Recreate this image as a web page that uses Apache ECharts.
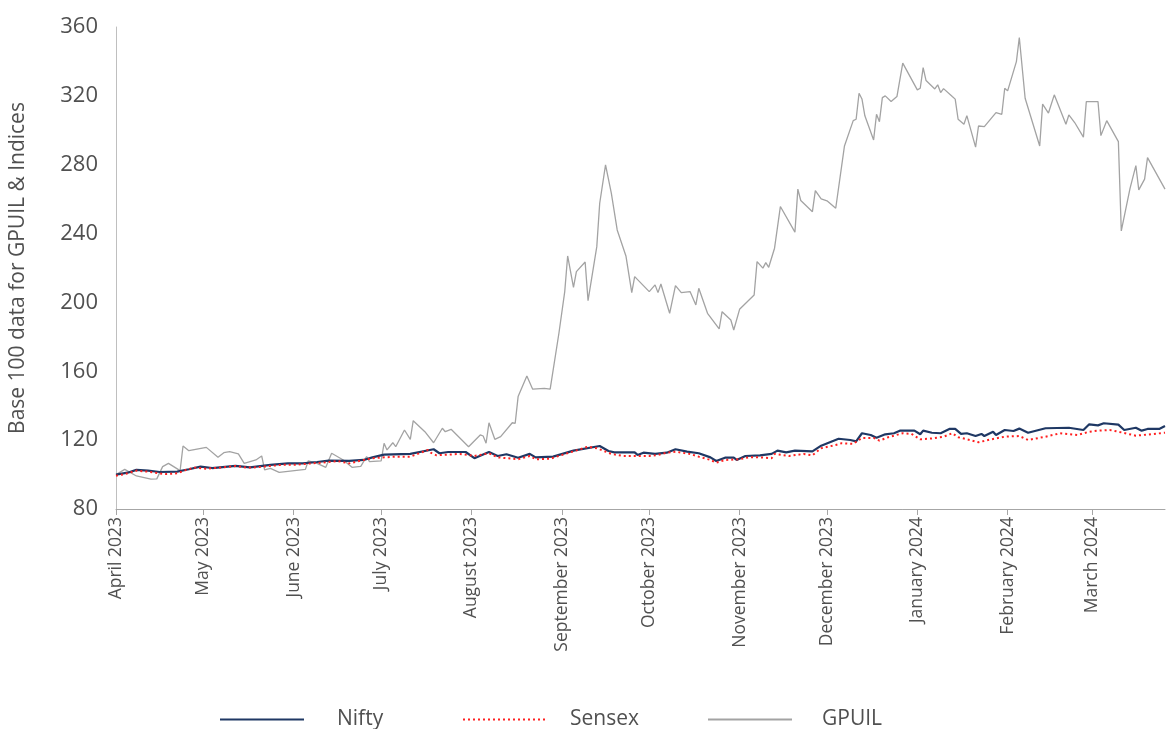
<!DOCTYPE html>
<html>
<head>
<meta charset="utf-8">
<script src="https://cdn.jsdelivr.net/npm/echarts@6/dist/echarts.min.js"></script>
<style>html,body{margin:0;padding:0;background:#fff}#c{width:1166px;height:729px}</style>
</head>
<body>
<div id="c"></div>
<script>
// Days are counted from 2023-04-01
var startYear = 2023, startMonth = 3, startDay = 1;
var lastDay = 360;
var yTicks = [80, 360, 40];
var monthNames = ['January','February','March','April','May','June','July','August','September','October','November','December'];

var niftyDays = [0,4,7,11,15,21,25,29,33,41,46,53,59,64,69,73,80,85,88,92,101,109,111,114,120,123,128,131,134,138,142,144,150,157,166,169,171,178,179,181,185,189,192,196,200,204,206,209,212,213,216,221,225,227,230,233,239,242,248,252,254,256,259,261,264,267,269,274,276,277,280,283,286,288,290,292,295,297,298,301,302,305,308,310,313,319,327,332,334,337,339,344,346,350,352,354,358,360];
var niftyValues = [100,101.1,102.7,102.3,101.5,101.7,103.1,104.6,103.8,105,104.2,105.6,106.5,106.5,107.3,108.1,107.9,108.5,110,111.6,112,114.7,112.4,113.1,113.1,109.5,113.1,110.8,111.8,109.8,112,110,110.4,113.9,116.6,113.7,112.9,112.9,111.4,112.7,112,112.7,114.7,113.3,112.4,110,107.9,109.8,109.8,108.5,110.8,111.2,112,113.9,112.9,113.9,113.5,116.8,120.8,120.1,119.3,124,123,121.4,123.4,124,125.5,125.5,123.4,125.5,124.3,124,126.5,126.5,123.6,124,122.4,123.6,122.4,124.9,123,125.9,125.3,126.7,124.3,126.9,127.2,125.9,129.2,128.6,129.8,129,125.9,127.2,125.5,126.5,126.5,128.2];

var sensexDays = [0,3,7,11,15,17,21,24,27,31,37,41,45,48,53,57,62,67,71,76,80,85,88,92,96,101,107,108,110,118,123,128,131,138,142,144,149,162,165,170,174,178,183,186,189,192,197,200,204,206,209,214,217,221,225,226,231,236,239,242,247,249,253,256,260,262,265,270,273,276,280,284,287,289,293,296,301,305,310,313,319,324,330,334,337,341,344,350,356,360];
var sensexValues = [99.3,100.3,102.3,101.7,100.7,100.3,100.7,102.7,104,103.4,104.2,105,104,104.2,105,105.7,105.7,106.5,106.9,107.9,106.5,108.5,109.5,110,110.4,110.4,114.3,112.7,111.2,112,110.8,112.4,110,108.9,110.8,108.9,109.2,116.2,115.3,112,110.8,110.8,110.8,111.4,112.7,113.3,112,110.4,108.5,106.9,108.5,108.9,110,110,109.5,112,110.8,112,111.2,115.3,117.2,118.2,117.8,121.3,121.3,119.7,121.7,124,123.6,120.5,121,122,124,121.7,120.1,118.8,120.7,122,122.4,120.1,122,124,123,124.9,125.5,125.9,124.9,122.6,123.6,124.3];

var gpuilDays = [0,3,7,12,14,16,18,22,23,25,31,35,37,39,42,44,48,50,51,53,56,65,66,69,72,74,78,81,84,86,87,91,92,93,95,96,99,101,102,106,109,112,113,115,121,125,126,127,128,130,132,136,137,138,141,143,147,149,152,154,155,157,158,161,162,165,166,168,170,172,175,177,178,183,185,186,187,190,192,194,197,199,200,203,207,208,211,212,214,219,220,222,223,224,226,228,233,234,235,239,240,242,244,247,250,253,254,255,256,257,260,261,262,263,264,266,268,270,275,276,277,278,281,282,283,284,287,288,289,291,292,295,296,298,302,304,305,306,309,310,312,317,318,320,322,326,327,329,332,333,337,338,340,344,345,348,350,351,353,354,360];
var gpuilValues = [100,103,99.2,97.3,97.5,104.6,106.5,102.3,116.6,113.9,115.8,110,112.7,113.3,112,106.5,108.5,110.8,102.7,103.6,101.3,103,108,106.5,104.2,112.4,108.5,104.2,104.8,110.4,107.5,107.9,118.2,114.3,118.5,116.2,125.9,120.5,131.3,124.9,118.5,126.9,124.9,126.3,116.2,123,122.4,118.2,130.1,120.5,122,130.1,129.8,145.3,157.3,149.6,150.1,149.6,182.1,206.3,227,208.8,217.9,223.5,201,232.4,257.6,279.9,263.4,242.1,227,205.7,215,206.3,210.2,205.7,210.7,193.7,209.8,205.7,206.3,198.5,208.2,193.7,184.6,194.6,189.8,184,196,204.3,223.7,219.9,223.1,220.4,231.5,255.7,240.8,265.8,259.2,252.7,264.9,260.1,259,254.7,290.9,305.6,306.4,321.5,318.2,308.4,294.4,309.3,305,319,320,316.7,319.6,339,323.5,324.4,336.4,328.9,324,326.4,321.9,324.2,319.6,318.1,306.4,303.5,308.5,290.2,302.5,302.1,310.3,309.3,324.4,322.9,339.9,353.9,318.6,290.9,315.2,310,320.6,303.5,308.9,304.5,296,316.7,316.7,296.9,305.6,293.4,241.5,266.3,279.5,265.4,271.6,284.1,265.8];

function dayToTime(d) { return new Date(startYear, startMonth, startDay + d).getTime(); }
function pairs(days, vals) { return days.map(function (d, i) { return [dayToTime(d), vals[i]]; }); }

var textColor = '#505050';
var font = 'Open Sans';
var chart = echarts.init(document.getElementById('c'));
function legendAt(name, left, gap) {
  return {
    data: [name], left: left, top: 704, itemWidth: 84, itemHeight: 14, itemGap: 0,
    itemStyle: { opacity: 0 },
    textStyle: { color: textColor, fontSize: 21, fontFamily: font, padding: [0, 0, 0, gap] }
  };
}
chart.setOption({
  animation: false,
  backgroundColor: '#fff',
  grid: { left: 116, right: 1, top: 27, bottom: 220 },
  legend: [legendAt('Nifty', 214, 28), legendAt('Sensex', 457, 18), legendAt('GPUIL', 702, 25)],
  xAxis: {
    type: 'time',
    min: dayToTime(0),
    max: dayToTime(lastDay),
    minInterval: 28 * 86400000,
    maxInterval: 31 * 86400000,
    splitLine: { show: false },
    axisLine: { lineStyle: { color: '#a6a6a6', width: 1 } },
    axisTick: { show: true, length: 6, lineStyle: { color: '#a6a6a6' } },
    minorTick: { show: false },
    axisLabel: {
      rotate: 90, margin: 8, color: textColor, fontSize: 17.5, fontFamily: font,
      showMinLabel: true, showMaxLabel: false,
      formatter: function (v) { var d = new Date(v); return monthNames[d.getMonth()] + ' ' + d.getFullYear(); }
    }
  },
  yAxis: {
    type: 'value', min: yTicks[0], max: yTicks[1], interval: yTicks[2],
    name: 'Base 100 data for GPUIL & Indices', nameLocation: 'middle', nameGap: 87,
    nameTextStyle: { color: textColor, fontSize: 21, fontFamily: font },
    splitLine: { show: false },
    axisLine: { show: true, lineStyle: { color: '#bfbfbf', width: 1 } },
    axisTick: { show: false },
    axisLabel: { color: textColor, fontSize: 22, fontFamily: font, margin: 18 }
  },
  series: [
    { name: 'Nifty', type: 'line', symbol: 'none', z: 3, data: pairs(niftyDays, niftyValues),
      lineStyle: { color: '#1f3864', width: 2.2 }, itemStyle: { color: '#1f3864' } },
    { name: 'Sensex', type: 'line', symbol: 'none', z: 4, data: pairs(sensexDays, sensexValues),
      lineStyle: { color: '#ff1f1f', width: 2, type: [2, 3] }, itemStyle: { color: '#ff1f1f' } },
    { name: 'GPUIL', type: 'line', symbol: 'none', z: 2, data: pairs(gpuilDays, gpuilValues),
      lineStyle: { color: '#a3a3a3', width: 1.3 }, itemStyle: { color: '#a3a3a3' } }
  ]
});
</script>
</body>
</html>
